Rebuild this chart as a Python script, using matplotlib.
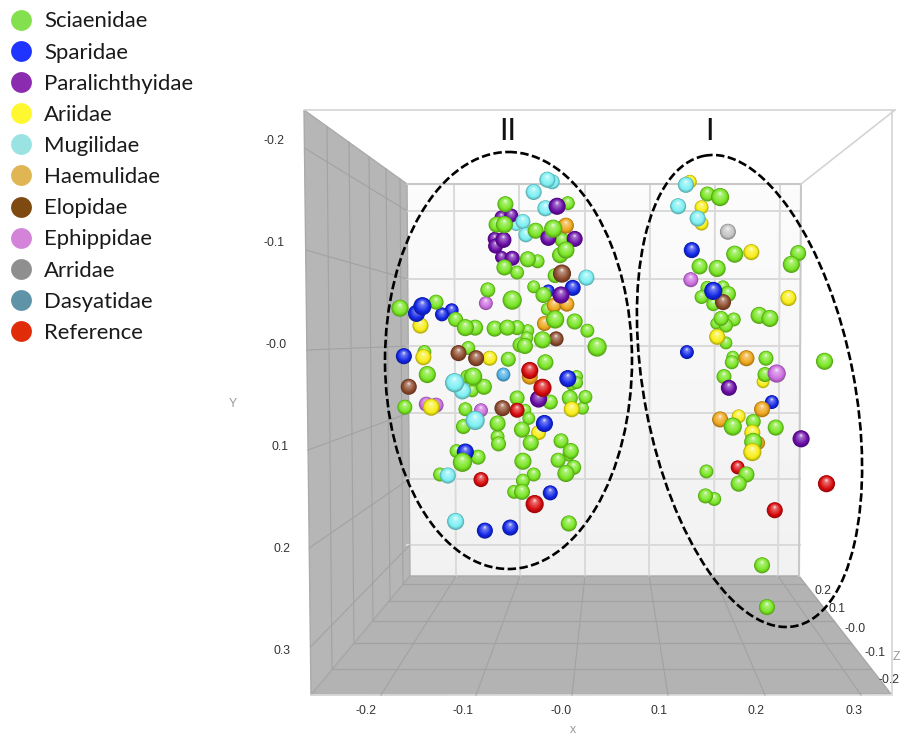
import numpy as np
import matplotlib
matplotlib.use("Agg")
import matplotlib.pyplot as plt
from matplotlib.colors import to_rgb
from matplotlib.lines import Line2D
from matplotlib.patches import Ellipse, Polygon
from matplotlib.transforms import blended_transform_factory as blend

# ---------- data (x, y, z) ----------
families = ["Sciaenidae", "Sparidae", "Paralichthyidae", "Ariidae", "Mugilidae", "Haemulidae",
            "Elopidae", "Ephippidae", "Arridae", "Dasyatidae", "Reference"]

scia_x = [-.057,-.066,-.058,-.026,-.008,.007,.001,.005,-.001,-.034,-.024,-.058,-.045,-.006,-.028,-.018,-.075,-.050,-.165,-.128,
          -.108,-.098,-.088,-.068,-.055,-.045,-.034,-.035,-.042,-.037,-.019,-.014,-.006,.014,.027,.037,-.095,-.140,-.054,-.016,
          -.137,-.096,-.090,-.079,-.091,.016,.016,.011,.025,.009,.022,-.011,-.045,-.037,-.033,-.160,-.098,-.100,-.065,-.065,
          -.064,-.040,-.031,0,.010,.008,-.003,.013,.005,-.039,-.028,-.039,-.048,-.040,-.107,-.085,-.101,-.124,.008,
          .150,.163,.178,.243,.236,.142,.160,.150,.144,.166,.171,.156,.164,.177,.159,.169,.203,.214,.169,.176,.175,.210,.270,
          .167,.209,.176,.197,.220,.197,.149,.190,.182,.148,.157,.206,.211]
scia_y = [-.138,-.118,-.118,-.112,-.114,-.139,-.103,-.093,-.088,-.084,-.082,-.076,-.071,-.068,-.057,-.049,-.054,-.044,-.036,-.042,
          -.025,-.017,-.017,-.016,-.017,-.017,-.014,-.007,0,.001,-.005,-.035,-.025,-.023,-.014,.002,.003,.007,.014,.017,
          .029,.031,.031,.041,.045,.031,.037,.039,.051,.052,.062,.056,.052,.064,.072,.061,.063,.080,.077,.090,
          .097,.083,.096,.094,.104,.108,.113,.120,.126,.114,.127,.133,.144,.144,.104,.110,.115,.127,.175,
          -.148,-.145,-.089,-.090,-.079,-.077,-.075,-.056,-.047,-.057,-.050,-.040,-.026,-.025,-.021,-.019,-.029,-.026,-.002,.012,.017,.013,.016,
          .031,.029,.080,.075,.081,.095,.124,.127,.136,.148,.151,.216,.257]
scia_z = [0,0,.04,0,.08,-.08,-.04,.04,0,0,-.08,0,-.08,-.04,-.12,0,-.04,.12,.04,-.04,
          -.04,.04,0,0,0,-.04,-.12,-.12,-.04,0,.04,-.12,.08,0,-.08,.12,-.08,-.08,-.04,0,
          .04,-.08,.08,0,-.12,-.12,-.12,-.16,-.08,0,-.12,-.04,-.04,-.12,-.12,-.04,-.08,-.04,0,-.08,
          -.04,0,0,-.04,0,-.12,-.04,-.04,.04,.04,-.08,-.08,-.08,0,-.08,-.04,.12,-.08,0,
          -.04,.08,.04,0,.04,0,.04,-.08,-.08,-.12,0,-.08,-.04,-.08,-.16,-.08,.04,.04,-.12,-.12,-.08,-.04,.04,
          -.04,-.04,.08,-.04,0,.08,-.08,0,0,-.04,-.08,0,0]

spar_x = [-.142,-.148,-.112,-.122,-.161,.012,-.013,.007,-.098,-.017,-.011,-.078,-.052,.134,.156,.129,.216]
spar_y = [-.038,-.031,-.034,-.030,.011,-.056,-.053,.033,.105,.077,.145,.182,.179,-.093,-.053,.007,.056]
spar_z = [.08,.04,-.08,-.08,0,0,-.12,.04,.04,.04,-.04,0,0,0,.08,-.08,-.08]

para_x = [-.061,-.051,-.068,-.067,-.059,-.061,-.050,-.004,-.013,.014,0,-.023,.172,.246]
para_y = [-.125,-.127,-.104,-.097,-.103,-.086,-.085,-.136,-.105,-.104,-.049,.053,.042,.092]
para_z = [-.08,-.08,-.08,-.04,0,-.12,-.04,.04,0,0,.04,.04,0,.04]

arii_x = [-.144,-.073,-.141,-.133,.011,-.023,.132,.144,.144,.195,.233,.160,.207,.182,.196,.196]
arii_y = [-.019,.013,.012,.061,.063,.086,-.160,-.135,-.119,-.091,-.046,-.008,.036,.070,.086,.105]
arii_z = [0,-.04,0,.04,0,-.04,-.08,-.08,-.08,0,0,0,-.12,-.08,0,.08]

mugi_x = [-.014,-.009,-.028,-.016,-.039,-.046,-.036,.026,-.109,-.101,-.088,-.116,-.108,.128,.120,.140]
mugi_y = [-.162,-.160,-.150,-.134,-.121,-.117,-.108,-.066,.037,.045,.074,.128,.173,-.157,-.136,-.124]
mugi_z = [0,-.04,0,0,-.04,-.2,-.04,0,.12,.04,.12,0,.04,0,0,0]

haem_x = [.005,-.007,.006,-.017,-.032,.190,.206,.163,.202]
haem_y = [-.117,-.039,-.040,-.021,.031,.013,.063,.073,.096]
haem_z = [0,-.04,-.04,-.04,0,0,0,0,-.08]

elop_x = [.001,-.005,-.105,-.087,-.156,-.060,.166]
elop_y = [-.070,-.006,.008,.013,.041,.062,-.042]
elop_z = [.08,-.04,0,0,0,0,0]

ephi_x = [-.077,-.138,-.128,-.082,.133,.221]
ephi_y = [-.041,.058,.059,.064,-.064,.028]
ephi_z = [-.08,-.04,-.04,-.08,-.04,.08]

arri_x = [.171]
arri_y = [-.111]
arri_z = [0]

dasy_x = [-.059]
dasy_y = [.029]
dasy_z = [-.08]

refe_x = [-.032,-.019,-.045,-.082,-.027,.181,.272,.219]
refe_y = [.025,.042,.064,.132,.156,.120,.136,.162]
refe_z = [.04,.08,-.04,-.04,.08,-.08,.04,0]

series_x = [scia_x, spar_x, para_x, arii_x, mugi_x, haem_x, elop_x, ephi_x, arri_x, dasy_x, refe_x]
series_y = [scia_y, spar_y, para_y, arii_y, mugi_y, haem_y, elop_y, ephi_y, arri_y, dasy_y, refe_y]
series_z = [scia_z, spar_z, para_z, arii_z, mugi_z, haem_z, elop_z, ephi_z, arri_z, dasy_z, refe_z]

x_ticks = [-.2, -.1, 0, .1, .2, .3]
y_ticks = [-.2, -.1, 0, .1, .2, .3]
tick_labels = ["-0.2", "-0.1", "-0.0", "0.1", "0.2", "0.3"]
z_labels = ["0.2", "0.1", "-0.0", "-0.1", "-0.2"]

# ---------- styles ----------
legend_colors = ["#84e04e", "#1f35ff", "#8a2bb0", "#fff830", "#9be3e3", "#e0b655",
                 "#7f4a12", "#d484d8", "#8f8f8f", "#5f93a8", "#e12c0a"]
sphere_colors = ["#78e622", "#1226e6", "#6a0ca8", "#f8ee14", "#7cf0f4", "#eea61a",
                 "#8c4a2c", "#cc6ee0", "#c4c4c4", "#4fb0e6", "#d80a0c"]
PX_X, PX_Y = 976.0, 1020.0
X0, Y0 = 561.0, 345.0

fig = plt.figure(figsize=(9.02, 7.38), dpi=100, facecolor="white")
deco = fig.add_axes([0, 0, 1, 1])
deco.set_xlim(0, 902); deco.set_ylim(738, 0); deco.axis("off")
ax = fig.add_axes([0, 0, 1, 1])
ax.set_xlim((0 - X0) / PX_X, (902 - X0) / PX_X)
ax.set_ylim((738 - Y0) / PX_Y, (0 - Y0) / PX_Y)
ax.axis("off"); ax.patch.set_alpha(0)

# ---------- 3D box ----------
gridc = "#dadada"
grid_dark = "#a2a2a2"
grad = np.linspace(0.985, 0.945, 64).reshape(-1, 1)
deco.imshow(grad, extent=(407, 800, 576, 184), cmap="gray", vmin=0, vmax=1, aspect="auto", zorder=1)
deco.set_xlim(0, 902); deco.set_ylim(738, 0)
deco.add_patch(Polygon([(304, 110), (407, 184), (410, 576), (311, 695)], fc="#b6b6b6", ec="#aaaaaa", lw=1, zorder=2))
deco.add_patch(Polygon([(410, 576), (799, 576), (891, 694), (311, 695)], fc="#b3b3b3", ec="#a8a8a8", lw=1, zorder=2))
for yy in [211, 279, 346, 413, 479, 545]:
    deco.plot([407, 800], [yy, yy], color=gridc, lw=1.4, zorder=3)
for t, b in zip([454, 519, 585, 650, 715, 780], [456, 520, 585, 649, 714, 778]):
    deco.plot([t, b], [184, 576], color=gridc, lw=1.4, zorder=3)
deco.plot([407, 801, 799], [184, 184, 576], color="#c8c8c8", lw=1.5, zorder=3)
deco.plot([305, 895], [110, 110], color="#d4d4d4", lw=1.2, zorder=3)
deco.plot([801, 895], [184, 110], color="#d4d4d4", lw=1.2, zorder=3)
deco.plot([892, 892], [110, 695], color="#d4d4d4", lw=1.2, zorder=3)
deco.plot([311, 891], [695, 695], color="#dcdcdc", lw=1.2, zorder=3)
# floor grid
for b, f in zip([456, 520, 585, 649, 714, 778], [381, 476, 572, 668, 765, 861]):
    deco.plot([b, f], [576, 695], color=grid_dark, lw=0.8, zorder=3)
for yy in [584, 601, 621, 643, 669]:
    t = (yy - 576) / 119
    deco.plot([410 - 99 * t, 799 + 92 * t], [yy, yy], color=grid_dark, lw=0.9, zorder=3)
# left wall grid
for vt, vb, yt, yb in zip([327, 349, 369, 386, 400], [332, 354, 373, 390, 403],
                          [127, 142, 157, 169, 179], [669, 643, 621, 601, 584]):
    deco.plot([vt, vb], [yt, yb], color=grid_dark, lw=0.8, zorder=3)
for yl, yr in zip([148, 250, 350, 450, 548, 647], [211, 279, 346, 413, 479, 545]):
    xl = 304 + (yl - 110) * 7 / 585
    xr = 407 + (yr - 184) * 3 / 392
    deco.plot([xl, xr], [yl, yr], color=grid_dark, lw=0.8, zorder=3)

# ---------- spheres ----------
fx, fy, fz, fc = [], [], [], []
for xs, ys, zs, col in zip(series_x, series_y, series_z, sphere_colors):
    fx += list(xs); fy += list(ys); fz += list(zs); fc += [col] * len(xs)
order = np.argsort(np.array(fz), kind="stable")
N = 12
ox, oy, os_, oc = [], [], [], []
for i in order:
    d = (15 + fz[i] / 0.04) * 1.07
    base = np.array(to_rgb(fc[i]))
    dark = base * 0.72
    light = base + (1 - base) * 0.42
    for k in range(N):
        t = k / (N - 1)
        if t < 0.25:
            c = dark + (base - dark) * (t / 0.25)
        elif t < 0.85:
            c = base + (light - base) * ((t - 0.25) / 0.6)
        else:
            c = light + (1 - light) * ((t - 0.85) / 0.15) * 0.6
        r = d * (1 - t * 0.88)
        dy = -0.2 * d * t
        ox.append(fx[i]); oy.append(fy[i] + dy / PX_Y)
        os_.append((r * 0.72) ** 2); oc.append(c)
ax.scatter(ox, oy, s=os_, c=oc, linewidths=0, zorder=5)

# ---------- ellipses ----------
for cx, cy, w, h, ang in [(508.5, 360.5, 247, 417, 0), (749.5, 391, 210, 479, -10.9)]:
    ax.add_patch(Ellipse((cx, cy), w, h, angle=ang, transform=deco.transData, fill=False,
                         ec="black", lw=1.9, ls=(0, (3.2, 1.3)), zorder=10))
for s, xx in [("II", 508), ("I", 710)]:
    deco.text(xx, 131, s, fontsize=22, family="Lato", ha="center", va="center", color="#111111", zorder=10)

# ---------- tick labels ----------
tk = dict(fontsize=8.8, family="Liberation Sans", color="#333333", va="center", zorder=6)
tx = blend(ax.transData, deco.transData)
ty = blend(deco.transData, ax.transData)
for v, s in zip(x_ticks, tick_labels):
    ax.text(v, 711, s, transform=tx, ha="center", **tk)
for v, s, xr in zip(y_ticks, tick_labels, [284, 285, 287, 288, 290, 291]):
    ax.text(xr, v, s, transform=ty, ha="right", **tk)
for s, (zx, zy) in zip(z_labels, [(823, 591), (837, 609), (855, 629), (875, 653), (889, 680)]):
    deco.text(zx, zy, s, ha="center", **tk)
ax_lbl = dict(fontsize=8.8, family="Liberation Sans", color="#999999", ha="center", va="center")
deco.text(573, 730, "x", **ax_lbl)
deco.text(233, 404, "Y", **ax_lbl)
deco.text(896, 657, "Z", **ax_lbl)

# ---------- legend ----------
handles = [Line2D([], [], ls="", marker="o", ms=15, mfc=c, mec="none") for c in legend_colors]
fig.legend(handles, families, loc="upper left", bbox_to_anchor=(0.0, 1 - 7 / 738), frameon=False,
           prop={"family": "Lato", "size": 15.9}, labelcolor="#1a1a1a",
           labelspacing=0.505, handletextpad=0.33, borderaxespad=0.0, borderpad=0.2,
           handlelength=1.46, handleheight=0.7)

fig.savefig("out.png", dpi=100)
